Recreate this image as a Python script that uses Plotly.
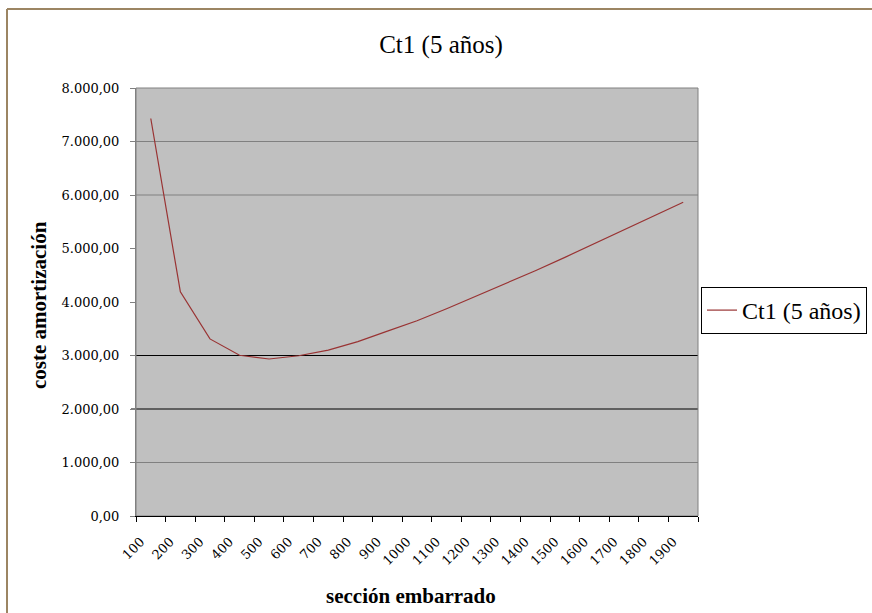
import plotly.graph_objects as go

# ---- data ----
SECCIONES = ["100", "200", "300", "400", "500", "600", "700", "800", "900", "1000",
             "1100", "1200", "1300", "1400", "1500", "1600", "1700", "1800", "1900"]
CT1_5_ANOS = [7430, 4190, 3310, 3005, 2935, 2995, 3100, 3260, 3455, 3650,
              3875, 4110, 4345, 4585, 4835, 5090, 5345, 5600, 5865]
SERIES_NAME = "Ct1 (5 años)"
TITLE = "Ct1 (5 años)"
X_TITLE = "sección embarrado"
Y_TITLE = "coste amortización"
Y_MAX = 8000
Y_STEP = 1000
GRID_GRAY = [1000, 6000, 7000]
GRID_BLACK = [2000, 3000]

# ---- geometry (pixels) ----
W, H = 872, 613
L, R, T, B = 136, 174, 88, 97
PW, PH = W - L - R, H - T - B


def xp(px):
    return (px - L) / PW


def yp(py):
    return (H - B - py) / PH


SERIF = "'Liberation Serif', 'Times New Roman', Times, serif"
TICKSERIF = "'DejaVu Serif', 'Liberation Serif', serif"

fig = go.Figure()
fig.add_trace(go.Scatter(
    x=SECCIONES, y=CT1_5_ANOS, mode="lines", name=SERIES_NAME,
    line=dict(color="#993333", width=1.2), showlegend=True,
))

shapes = []
for v in GRID_GRAY:
    shapes.append(dict(type="line", xref="paper", yref="y", x0=0, x1=1, y0=v, y1=v,
                       line=dict(color="#808080", width=1), layer="below"))
for v in GRID_BLACK:
    shapes.append(dict(type="line", xref="paper", yref="y", x0=xp(131), x1=1, y0=v, y1=v,
                       line=dict(color="#000000", width=1), layer="below"))
shapes.append(dict(type="rect", xref="paper", yref="paper", x0=0, x1=1, y0=0, y1=1,
                   line=dict(color="#808080", width=1), layer="below"))
shapes.append(dict(type="line", xref="paper", yref="paper", x0=xp(7), x1=xp(900),
                   y0=yp(9), y1=yp(9), line=dict(color="#9C8563", width=2)))
shapes.append(dict(type="line", xref="paper", yref="paper", x0=xp(7), x1=xp(7),
                   y0=yp(9), y1=yp(640), line=dict(color="#9C8563", width=2)))

annotations = [
    dict(text=f"<b>{X_TITLE}</b>", xref="paper", yref="paper", x=xp(411), y=yp(596),
         xanchor="center", yanchor="middle", showarrow=False,
         font=dict(family=SERIF, size=21, color="#000000")),
    dict(text=f"<b>{Y_TITLE}</b>", xref="paper", yref="paper", x=xp(39), y=yp(305),
         xanchor="center", yanchor="middle", showarrow=False, textangle=-90,
         font=dict(family=SERIF, size=21, color="#000000")),
]

fig.update_layout(
    width=W, height=H,
    margin=dict(l=L, r=R, t=T, b=B, pad=0, autoexpand=False),
    paper_bgcolor="#FFFFFF", plot_bgcolor="#C0C0C0",
    separators=",.",
    font=dict(family=SERIF, color="#000000"),
    title=dict(text=TITLE, xref="container", yref="container", x=441 / W, y=1 - 44 / H,
               xanchor="center", yanchor="middle",
               font=dict(family=SERIF, size=25, color="#000000")),
    showlegend=True,
    legend=dict(xref="container", yref="container", x=701 / W, y=1 - 310.5 / H,
                xanchor="left", yanchor="middle",
                bgcolor="#FFFFFF", bordercolor="#000000", borderwidth=1,
                font=dict(family=SERIF, size=24, color="#000000"),
                itemwidth=30, tracegroupgap=0),
    shapes=shapes, annotations=annotations,
)

fig.update_xaxes(
    type="category", tickson="boundaries", showgrid=False,
    showline=True, linecolor="#000000", linewidth=1,
    ticks="outside", ticklen=5, tickcolor="#000000", tickwidth=1,
    tickangle=-45, ticklabelshift=-10, ticklabelstandoff=12,
    tickfont=dict(family=TICKSERIF, size=13, color="#000000"),
    range=[-0.5, len(SECCIONES) - 0.5], zeroline=False,
)
fig.update_yaxes(
    range=[0, Y_MAX], dtick=Y_STEP, tick0=0, showgrid=False, zeroline=False,
    showline=True, linecolor="#808080", linewidth=1,
    ticks="outside", ticklen=5, tickcolor="#808080", tickwidth=1,
    tickformat=",.2f", ticklabelstandoff=8,
    tickfont=dict(family=TICKSERIF, size=13, color="#000000"),
)

fig.write_html("out.html")
